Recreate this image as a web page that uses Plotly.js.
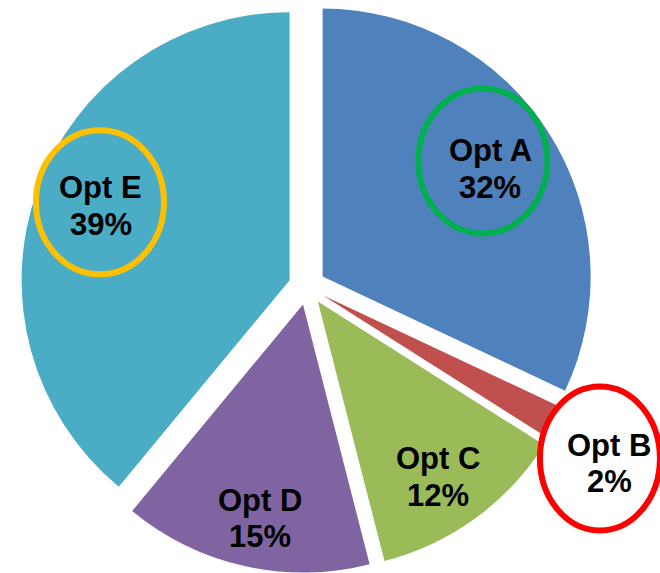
<!DOCTYPE html>
<html>
<head>
<meta charset="utf-8">
<script src="https://cdn.plot.ly/plotly-3.0.1.min.js"></script>
<style>
html,body{margin:0;padding:0;background:#fff;overflow:hidden;}
#chart{width:660px;height:573px;}
</style>
</head>
<body>
<div id="chart"></div>
<script>
// ---- data ----
const labels = ['Opt A', 'Opt B', 'Opt C', 'Opt D', 'Opt E'];
const values = [32, 2, 12, 15, 39];
const colors = ['#4F81BD', '#C0504D', '#9BBB59', '#8064A2', '#4BACC6'];

// ---- layout / style settings ----
const W = 660, H = 573;
const margin = {l: 20, r: 66, t: 0, b: 0, pad: 0};
const pull = 0.069;
const labelRadius = [0.75, 1.24, 0.79, 0.81, 0.76];   // fraction of radius, per slice
const labelNudge = [[-2, 0], [-5, 8], [-4, 4], [4, 2], [3, -5]]; // px
const fontSize = 31;
const lineHalf = 18.35;
// highlight rings: slice index, stroke colour, fill, offset from label, radii
const rings = [
  {i: 0, color: '#00B050', fill: 'rgba(0,0,0,0)', dx: -7.5, dy: -8, rx: 64.5, ry: 72.5},
  {i: 1, color: '#FF0000', fill: '#FFFFFF', dx: -9.5, dy: -5, rx: 60, ry: 72},
  {i: 4, color: '#FFC000', fill: 'rgba(0,0,0,0)', dx: -1, dy: -4, rx: 64, ry: 72}
];

const pw = W - margin.l - margin.r, ph = H - margin.t - margin.b;
const R = Math.min(pw, ph) / 2 / (1 + pull);
const total = values.reduce((a, b) => a + b, 0);

const annotations = [];
const shapes = [];
const labelPx = [];
let cum = 0;
values.forEach((v, i) => {
  const mid = (cum + v / 2) / total * 2 * Math.PI;
  cum += v;
  const ux = Math.sin(mid), uy = -Math.cos(mid);
  const d = (pull + labelRadius[i]) * R;
  const px = pw / 2 + d * ux + labelNudge[i][0], py = ph / 2 + d * uy + labelNudge[i][1];
  labelPx.push([px, py]);
  const pct = Math.round(v / total * 100) + '%';
  const font = {family: 'Liberation Sans, Arial, sans-serif', size: fontSize, color: '#000000', weight: 'bold'};
  annotations.push({xref: 'paper', yref: 'paper', x: px / pw, y: 1 - py / ph, text: labels[i],
    showarrow: false, xanchor: 'center', yanchor: 'middle', yshift: lineHalf, font: font});
  annotations.push({xref: 'paper', yref: 'paper', x: px / pw, y: 1 - py / ph, text: pct,
    showarrow: false, xanchor: 'center', yanchor: 'middle', yshift: -lineHalf, font: font});
});

rings.forEach(r => {
  const [px, py] = labelPx[r.i];
  const cx = px + r.dx, cy = py + r.dy;
  shapes.push({type: 'circle', xref: 'paper', yref: 'paper', layer: 'above',
    x0: (cx - r.rx) / pw, x1: (cx + r.rx) / pw,
    y0: 1 - (cy + r.ry) / ph, y1: 1 - (cy - r.ry) / ph,
    line: {color: r.color, width: 6}, fillcolor: r.fill});
});

const trace = {
  type: 'pie',
  labels: labels,
  values: values,
  sort: false,
  direction: 'clockwise',
  rotation: 0,
  pull: pull,
  textinfo: 'none',
  hoverinfo: 'label+percent',
  marker: {colors: colors, line: {width: 0}},
  domain: {x: [0, 1], y: [0, 1]}
};

const layout = {
  width: W, height: H,
  margin: margin,
  showlegend: false,
  paper_bgcolor: '#FFFFFF',
  plot_bgcolor: '#FFFFFF',
  annotations: annotations,
  shapes: shapes
};

Plotly.newPlot('chart', [trace], layout, {displayModeBar: false, staticPlot: true});
</script>
</body>
</html>
